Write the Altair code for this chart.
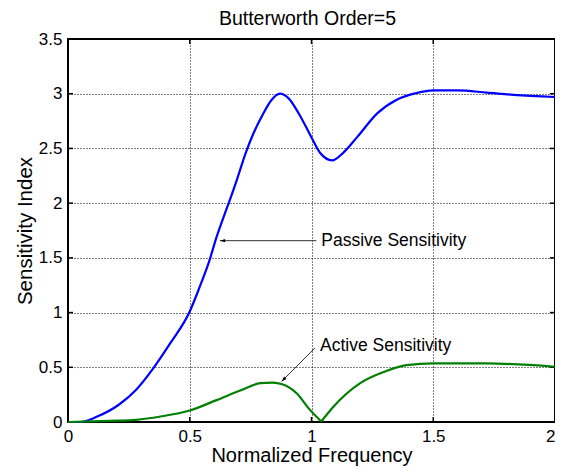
import altair as alt
import pandas as pd

# ---- data ----
passive_x = [0, 0.05, 0.12, 0.21, 0.28, 0.35, 0.42, 0.5, 0.54, 0.58, 0.61, 0.64, 0.66,
             0.69, 0.73, 0.76, 0.8, 0.835, 0.87, 0.905, 0.95, 1.0, 1.035, 1.085, 1.13,
             1.19, 1.27, 1.35, 1.43, 1.5, 1.6, 1.72, 1.83, 2.0]
passive_y = [0, 0.0, 0.05, 0.16, 0.295, 0.49, 0.72, 1.01, 1.23, 1.47, 1.69, 1.88, 2.0,
             2.19, 2.46, 2.63, 2.81, 2.94, 3.0, 2.96, 2.81, 2.6, 2.46, 2.39, 2.46,
             2.61, 2.82, 2.945, 3.005, 3.03, 3.03, 3.01, 2.99, 2.97]

active_x = [0, 0.17, 0.28, 0.38, 0.5, 0.61, 0.71, 0.79, 0.84, 0.88, 0.94, 0.99, 1.04,
            1.04, 1.09, 1.2, 1.3, 1.39, 1.5, 1.72, 2.0]
active_y = [0, 0.01, 0.02, 0.05, 0.105, 0.2, 0.29, 0.355, 0.36, 0.345, 0.26, 0.12, 0.005,
            0.005, 0.14, 0.355, 0.46, 0.52, 0.535, 0.535, 0.505]
active_seg = [0] * 13 + [1] * 8

x_ticks = [0, 0.5, 1, 1.5, 2]
y_ticks = [0, 0.5, 1, 1.5, 2, 2.5, 3, 3.5]

title_text = "Butterworth Order=5"
labels = ["Passive Sensitivity", "Active Sensitivity"]
label_x = [1.04, 1.035]
label_y = [1.657, 0.694]
arrow_tail_x = [1.02, 1.014]
arrow_tail_y = [1.657, 0.676]
arrow_head_x = [0.624, 0.877]
arrow_head_y = [1.657, 0.37]
arrow_angle = [270, 225]

W, H = 487, 383
FONT = "Liberation Sans"

passive = pd.DataFrame({"x": passive_x, "y": passive_y})
active = pd.DataFrame({"x": active_x, "y": active_y, "seg": active_seg})
ann = pd.DataFrame({"label": labels, "lx": label_x, "ly": label_y,
                    "tx": arrow_tail_x, "ty": arrow_tail_y,
                    "hx": arrow_head_x, "hy": arrow_head_y, "ang": arrow_angle})
xt = pd.DataFrame({"v": x_ticks})
yt = pd.DataFrame({"v": y_ticks})
tdf = pd.DataFrame({"t": [title_text]})

xscale = alt.Scale(domain=[0, 2], nice=False, zero=False)
yscale = alt.Scale(domain=[0, 3.5], nice=False, zero=False)

xaxis = alt.Axis(values=x_ticks, format="~g", title="Normalized Frequency", grid=True,
                 gridDash=[1, 2], gridColor="black", gridWidth=1, gridOpacity=1,
                 ticks=False, domain=False, labelFont=FONT, labelFontSize=17,
                 labelColor="black", labelPadding=6, labelFlush=False,
                 labelAlign=alt.condition("datum.value >= 2", alt.value("right"),
                                          alt.value("center")),
                 titleFont=FONT, titleFontSize=20, titleFontWeight="normal",
                 titleColor="black", titleY=39.5, titleBaseline="alphabetic")
yaxis = alt.Axis(values=y_ticks, format="~g", title="Sensitivity Index", grid=True,
                 gridDash=[1, 2], gridColor="black", gridWidth=1, gridOpacity=1,
                 ticks=False, domain=False, labelFont=FONT, labelFontSize=17,
                 labelColor="black", labelPadding=6, labelFlush=False,
                 titleFont=FONT, titleFontSize=20.5, titleFontWeight="normal",
                 titleColor="black", titleX=-36.3, titleY=H / 2, titleAngle=-90,
                 titleBaseline="alphabetic", titleAlign="center")

p_line = alt.Chart(passive).mark_line(color="#0000FF", strokeWidth=2.2,
                                      interpolate="monotone").encode(
    x=alt.X("x:Q", scale=xscale, axis=xaxis),
    y=alt.Y("y:Q", scale=yscale, axis=yaxis),
)
a_line = alt.Chart(active).mark_line(color="#008000", strokeWidth=2.2,
                                     interpolate="monotone").encode(
    x=alt.X("x:Q", scale=xscale),
    y=alt.Y("y:Q", scale=yscale),
    detail="seg:N",
)

# inward ticks on all four sides
tb = alt.Chart(xt).mark_rule(color="black", strokeWidth=1.5).encode(
    x=alt.X("v:Q", scale=xscale), y=alt.value(H), y2=alt.value(H - 5))
tt = alt.Chart(xt).mark_rule(color="black", strokeWidth=1.5).encode(
    x=alt.X("v:Q", scale=xscale), y=alt.value(0), y2=alt.value(5))
tl = alt.Chart(yt).mark_rule(color="black", strokeWidth=1.5).encode(
    y=alt.Y("v:Q", scale=yscale), x=alt.value(0), x2=alt.value(5))
tr = alt.Chart(yt).mark_rule(color="black", strokeWidth=1.5).encode(
    y=alt.Y("v:Q", scale=yscale), x=alt.value(W), x2=alt.value(W - 5))

shaft = alt.Chart(ann).mark_rule(color="#333333", strokeWidth=1).encode(
    x=alt.X("tx:Q", scale=xscale), y=alt.Y("ty:Q", scale=yscale),
    x2="hx:Q", y2="hy:Q")
heads = alt.Chart(ann).mark_point(
    shape="M0,0L-0.32,1L0.32,1Z", filled=True, color="black", opacity=1, size=110
).encode(
    x=alt.X("hx:Q", scale=xscale), y=alt.Y("hy:Q", scale=yscale),
    angle=alt.Angle("ang:Q", scale=None))
texts = alt.Chart(ann).mark_text(
    align="left", baseline="middle", font=FONT, fontSize=17.5, color="black"
).encode(x=alt.X("lx:Q", scale=xscale), y=alt.Y("ly:Q", scale=yscale),
         text="label:N")

title = alt.Chart(tdf).mark_text(
    align="center", baseline="alphabetic", font=FONT, fontSize=19.5, color="black"
).encode(x=alt.value(W / 2 - 4), y=alt.value(-14), text="t:N")

chart = alt.layer(tb, tt, tl, tr, p_line, a_line, shaft, heads, texts, title).properties(
    width=W, height=H,
    autosize=alt.AutoSizeParams(type="none"),
    padding={"left": 60, "top": 31, "right": 0, "bottom": 44},
).configure(background="white").configure_view(stroke="black", strokeWidth=2)

chart.save("out.html", embed_options={"renderer": "svg", "actions": False})
